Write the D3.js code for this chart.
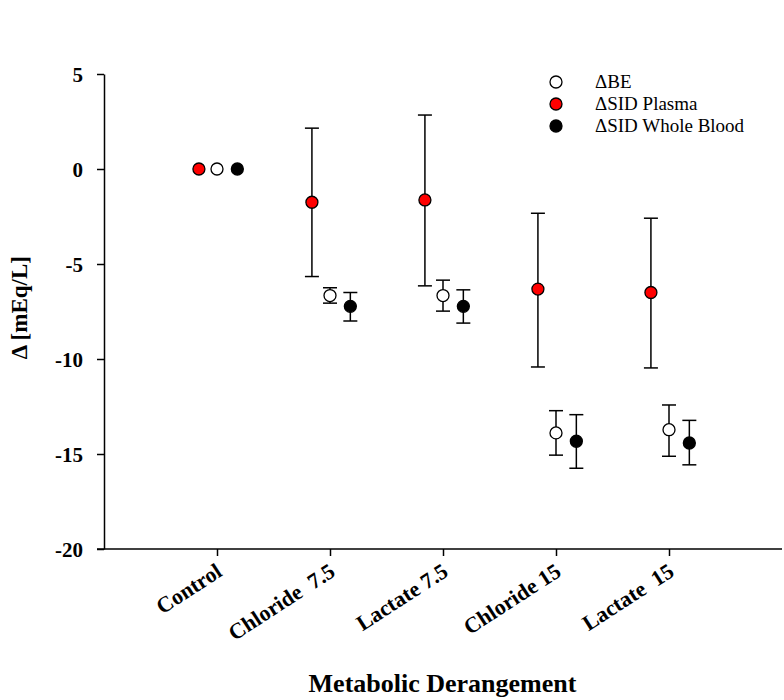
<!DOCTYPE html>
<html>
<head>
<meta charset="utf-8">
<script src="https://cdn.jsdelivr.net/npm/d3@7"></script>
<style>
  body { margin: 0; background: #fff; }
  svg text { font-family: "Liberation Serif", "Times New Roman", serif; }
</style>
</head>
<body>
<div id="chart"></div>
<script>
// categories along x
const categories = ['Control', 'Chloride  7.5', 'Lactate 7.5', 'Chloride 15', 'Lactate  15'];
const yTicks = [5, 0, -5, -10, -15, -20];

// ΔBE
const beMean = [0, -6.66, -6.66, -13.89, -13.72];
const beHi   = [null, -6.25, -5.85, -12.72, -12.42];
const beLo   = [null, -7.06, -7.48, -15.06, -15.12];

// ΔSID Plasma
const plasmaMean = [0, -1.75, -1.63, -6.32, -6.5];
const plasmaHi   = [null, 2.15, 2.84, -2.33, -2.59];
const plasmaLo   = [null, -5.66, -6.15, -10.42, -10.47];

// ΔSID Whole Blood
const wbMean = [0, -7.23, -7.23, -14.33, -14.42];
const wbHi   = [null, -6.5, -6.36, -12.93, -13.23];
const wbLo   = [null, -8.0, -8.11, -15.75, -15.57];

const series = [
  { name: 'ΔBE', fill: '#ffffff', offset: 0, mean: beMean, hi: beHi, lo: beLo },
  { name: 'ΔSID Plasma', fill: '#ff0000', offset: -0.16, mean: plasmaMean, hi: plasmaHi, lo: plasmaLo },
  { name: 'ΔSID Whole Blood', fill: '#000000', offset: 0.18, mean: wbMean, hi: wbHi, lo: wbLo },
];

const width = 784;
const height = 700;
const serif = '"Liberation Serif", "Times New Roman", serif';

const xScale = d3.scaleLinear().domain([0, 6]).range([104, 782]);
const yScale = d3.scaleLinear().domain([-20, 5]).range([549, 74]);

const svg = d3.select('#chart')
  .append('svg')
  .attr('width', width)
  .attr('height', height)
  .attr('font-family', serif);

// y axis
const yAxis = d3.axisLeft(yScale)
  .tickValues(yTicks)
  .tickFormat((d) => String(d))
  .tickSize(7)
  .tickSizeOuter(0)
  .tickPadding(14);
const yg = svg.append('g')
  .attr('transform', `translate(${xScale(0)},0)`)
  .call(yAxis)
  .attr('font-family', serif);
yg.selectAll('path, line').attr('stroke', '#000').attr('stroke-width', 1.5);
yg.selectAll('text')
  .attr('fill', '#000')
  .style('font-size', '21px')
  .style('font-weight', 'bold')
  .attr('dy', '0.35em');

// x axis
const xAxis = d3.axisBottom(xScale)
  .tickValues(d3.range(1, categories.length + 1))
  .tickFormat((i) => categories[i - 1])
  .tickSize(7)
  .tickSizeOuter(0);
const xg = svg.append('g')
  .attr('transform', `translate(0,${yScale(-20)})`)
  .call(xAxis)
  .attr('font-family', serif);
xg.select('.domain').remove();
xg.append('line')
  .attr('x1', xScale(0) - 7)
  .attr('x2', xScale(6))
  .attr('stroke', '#000')
  .attr('stroke-width', 1.5);
xg.selectAll('line').attr('stroke', '#000').attr('stroke-width', 1.5);
xg.selectAll('.tick text')
  .attr('fill', '#000')
  .attr('y', 0)
  .attr('dy', 0)
  .attr('text-anchor', 'end')
  .attr('transform', 'translate(6,26) rotate(-33)')
  .style('white-space', 'pre')
  .style('font-size', '22px')
  .style('font-weight', 'bold');

// error bars + points
const capHalf = 7;
series.forEach((s) => {
  const g = svg.append('g');
  const rows = s.mean.map((m, i) => ({ i: i + 1, m, hi: s.hi[i], lo: s.lo[i] }));
  const bars = rows.filter((d) => d.hi !== null);
  const cx = (d) => xScale(d.i + s.offset);

  g.selectAll('line.stem')
    .data(bars)
    .join('line')
    .attr('class', 'stem')
    .attr('x1', cx).attr('x2', cx)
    .attr('y1', (d) => yScale(d.hi))
    .attr('y2', (d) => yScale(d.lo))
    .attr('stroke', '#000')
    .attr('stroke-width', 1.5);

  ['hi', 'lo'].forEach((k) => {
    g.selectAll('line.cap-' + k)
      .data(bars)
      .join('line')
      .attr('class', 'cap-' + k)
      .attr('x1', (d) => cx(d) - capHalf)
      .attr('x2', (d) => cx(d) + capHalf)
      .attr('y1', (d) => yScale(d[k]))
      .attr('y2', (d) => yScale(d[k]))
      .attr('stroke', '#000')
      .attr('stroke-width', 1.5);
  });

  g.selectAll('circle')
    .data(rows)
    .join('circle')
    .attr('cx', cx)
    .attr('cy', (d) => yScale(d.m))
    .attr('r', 6)
    .attr('fill', s.fill)
    .attr('stroke', '#000')
    .attr('stroke-width', 1.3);
});

// legend
const legend = svg.append('g').attr('transform', 'translate(556,82)');
series.forEach((s, i) => {
  const row = legend.append('g').attr('transform', `translate(0,${i * 22})`);
  row.append('circle')
    .attr('r', 6)
    .attr('fill', s.fill)
    .attr('stroke', '#000')
    .attr('stroke-width', 1.3);
  row.append('text')
    .attr('x', 39)
    .attr('y', 6)
    .style('font-size', '19px')
    .text(s.name);
});

// axis titles
svg.append('text')
  .attr('transform', `translate(27,${yScale(-7.3)}) rotate(-90)`)
  .attr('text-anchor', 'middle')
  .style('font-size', '23px')
  .style('font-weight', 'bold')
  .text('Δ [mEq/L]');

svg.append('text')
  .attr('x', 442.5)
  .attr('y', 692)
  .attr('text-anchor', 'middle')
  .style('font-size', '26px')
  .style('font-weight', 'bold')
  .text('Metabolic Derangement');
</script>
</body>
</html>
